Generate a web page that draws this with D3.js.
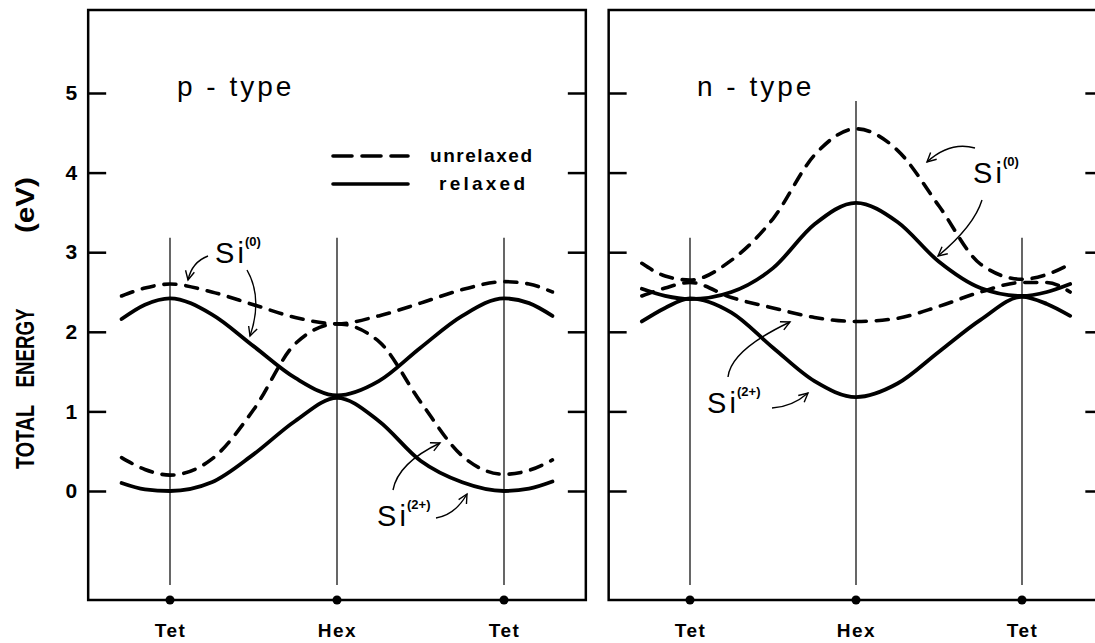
<!DOCTYPE html>
<html>
<head>
<meta charset="utf-8">
<script src="https://cdn.jsdelivr.net/npm/d3@7"></script>
<style>
  body { margin: 0; background: #fff; }
  text { font-family: "Liberation Sans", Arial, sans-serif; fill: #000; }
</style>
</head>
<body>
<svg id="chart" width="1095" height="643"></svg>
<script>
// configuration coordinate: Tet = 0, Hex = 1, Tet = 2
var xs = [-0.29, -0.15, 0, 0.25, 0.5, 0.75, 1, 1.25, 1.5, 1.75, 2, 2.15, 2.29];

// p-type (eV)
var pSi0Unrelaxed  = [2.45, 2.55, 2.60, 2.50, 2.34, 2.18, 2.10, 2.20, 2.36, 2.53, 2.63, 2.60, 2.50];
var pSi0Relaxed    = [2.16, 2.34, 2.42, 2.22, 1.82, 1.42, 1.20, 1.38, 1.80, 2.20, 2.42, 2.36, 2.20];
var pSi2Unrelaxed  = [0.42, 0.27, 0.20, 0.40, 1.02, 1.85, 2.10, 1.88, 1.12, 0.44, 0.21, 0.26, 0.39];
var pSi2Relaxed    = [0.10, 0.02, 0.00, 0.11, 0.46, 0.88, 1.17, 0.88, 0.38, 0.11, 0.00, 0.03, 0.12];

// n-type (eV)
var nSi0Unrelaxed  = [2.86, 2.70, 2.65, 2.90, 3.42, 4.22, 4.55, 4.28, 3.58, 2.85, 2.66, 2.72, 2.85];
var nSi0Relaxed    = [2.54, 2.45, 2.41, 2.50, 2.80, 3.35, 3.62, 3.38, 2.88, 2.55, 2.45, 2.50, 2.60];
var nSi2Unrelaxed  = [2.45, 2.55, 2.62, 2.43, 2.30, 2.18, 2.13, 2.17, 2.32, 2.50, 2.62, 2.62, 2.50];
var nSi2Relaxed    = [2.13, 2.30, 2.42, 2.24, 1.80, 1.38, 1.18, 1.35, 1.75, 2.15, 2.44, 2.35, 2.20];

var yTicks = [0, 1, 2, 3, 4, 5];
var sites = [0, 1, 2];
var siteLabels = ["Tet", "Hex", "Tet"];
var legendLabels = ["unrelaxed", "relaxed"];

var svg = d3.select("#chart");

var y = d3.scaleLinear().domain([0, 5]).range([491, 93]);
var frameTop = 10, frameBottom = 600;

svg.append("defs").append("marker")
	.attr("id", "head")
	.attr("viewBox", "-10 -6 12 12")
	.attr("markerWidth", 12).attr("markerHeight", 12)
	.attr("markerUnits", "userSpaceOnUse")
	.attr("orient", "auto")
	.append("path")
	.attr("d", "M-9,-4.5L0,0L-9,4.5")
	.attr("fill", "none")
	.attr("stroke", "#000")
	.attr("stroke-width", 1.4);

function drawPanel(opt) {
	var x = d3.scaleLinear().domain([0, 2]).range(opt.range);
	var left = x(-0.49), right = x(2.49);
	var g = svg.append("g");

	// frame
	g.append("rect")
		.attr("x", left).attr("y", frameTop)
		.attr("width", right - left).attr("height", frameBottom - frameTop)
		.attr("fill", "none").attr("stroke", "#000").attr("stroke-width", 2.5);

	// inward ticks
	g.append("g")
		.attr("transform", "translate(" + left + ",0)")
		.call(d3.axisLeft(y).tickValues(yTicks).tickSize(-18).tickPadding(11)
			.tickFormat(opt.labels ? d3.format("d") : function(){ return ""; }))
		.call(function(a){ a.select(".domain").remove(); })
		.call(function(a){
			a.selectAll("line").attr("stroke-width", 2.5);
			a.selectAll("text").attr("font-size", 21).attr("font-weight", "bold")
				.style("font-family", "'Liberation Sans', Arial, sans-serif");
		});
	g.append("g")
		.attr("transform", "translate(" + right + ",0)")
		.call(d3.axisRight(y).tickValues(yTicks).tickSize(-18).tickFormat(function(){ return ""; }))
		.call(function(a){ a.select(".domain").remove(); })
		.call(function(a){ a.selectAll("line").attr("stroke-width", 2.5); });

	// bottom site labels
	g.append("g")
		.attr("transform", "translate(0," + frameBottom + ")")
		.call(d3.axisBottom(x).tickValues(sites).tickSize(0).tickPadding(24)
			.tickFormat(function(d, i){ return siteLabels[i]; }))
		.call(function(a){ a.select(".domain").remove(); })
		.call(function(a){
			a.selectAll("text").attr("font-size", 19).attr("font-weight", "bold")
				.attr("letter-spacing", 1.5)
				.style("font-family", "'Liberation Sans', Arial, sans-serif");
		});

	// guide lines
	g.selectAll(".guide").data(sites).enter().append("line")
		.attr("class", "guide")
		.attr("x1", function(d){ return x(d); }).attr("x2", function(d){ return x(d); })
		.attr("y1", function(d, i){ return y(opt.guideTops[i]); })
		.attr("y2", y(-1.18))
		.attr("stroke", "#000").attr("stroke-width", 1.2);

	g.selectAll(".dot").data(sites).enter().append("circle")
		.attr("cx", function(d){ return x(d); })
		.attr("cy", frameBottom)
		.attr("r", 4.5);

	// curves
	var line = d3.line()
		.x(function(d){ return x(d[0]); })
		.y(function(d){ return y(d[1]); })
		.curve(d3.curveMonotoneX);

	opt.curves.forEach(function(c){
		g.append("path")
			.attr("d", line(d3.zip(xs, c.values)))
			.attr("fill", "none")
			.attr("stroke", "#000")
			.attr("stroke-width", c.dashed ? 3.6 : 3.8)
			.attr("stroke-linecap", "round")
			.attr("stroke-dasharray", c.dashed ? "12,10" : null);
	});

	// title
	g.append("text")
		.attr("x", opt.title.x).attr("y", 96)
		.attr("font-size", 28)
		.attr("letter-spacing", 3)
		.text(opt.title.text);

	// Si labels and arrows
	opt.notes.forEach(function(n){
		g.append("text")
			.attr("x", n.x).attr("y", n.y)
			.attr("font-size", 29)
			.attr("textLength", 29)
			.text("Si");
		g.append("text")
			.attr("x", n.x + 30).attr("y", n.y - 17)
			.attr("font-size", 13).attr("font-weight", "bold")
			.text(n.sup);
		n.arrows.forEach(function(a){
			var p = d3.path();
			p.moveTo(a[0], a[1]);
			p.quadraticCurveTo(a[2], a[3], a[4], a[5]);
			g.append("path")
				.attr("d", p.toString())
				.attr("fill", "none")
				.attr("stroke", "#000")
				.attr("stroke-width", 1.4)
				.attr("marker-end", "url(#head)");
		});
	});

	return x;
}

drawPanel({
	range: [170, 504],
	labels: true,
	guideTops: [3.18, 3.18, 3.18],
	title: { text: "p - type", x: 177 },
	curves: [
		{ values: pSi0Unrelaxed, dashed: true },
		{ values: pSi0Relaxed, dashed: false },
		{ values: pSi2Unrelaxed, dashed: true },
		{ values: pSi2Relaxed, dashed: false }
	],
	notes: [
		{ x: 215, y: 263, sup: "(0)", arrows: [[208, 256, 192, 262, 188, 280], [247, 270, 263, 298, 250, 336]] },
		{ x: 377, y: 526, sup: "(2+)", arrows: [[393, 490, 398, 463, 440, 443], [436, 518, 455, 515, 467, 494]] }
	]
});

drawPanel({
	range: [690, 1022],
	labels: false,
	guideTops: [3.18, 4.9, 3.18],
	title: { text: "n - type", x: 697 },
	curves: [
		{ values: nSi0Unrelaxed, dashed: true },
		{ values: nSi0Relaxed, dashed: false },
		{ values: nSi2Unrelaxed, dashed: true },
		{ values: nSi2Relaxed, dashed: false }
	],
	notes: [
		{ x: 973, y: 183, sup: "(0)", arrows: [[975, 148, 950, 141, 927, 162], [982, 200, 974, 226, 938, 256]] },
		{ x: 707, y: 413, sup: "(2+)", arrows: [[728, 377, 731, 350, 790, 322], [772, 408, 792, 407, 808, 393]] }
	]
});

// legend
var legend = svg.append("g");
legend.selectAll("line").data(legendLabels).enter().append("line")
	.attr("x1", 333).attr("x2", 408)
	.attr("y1", function(d, i){ return 156 + i * 28; })
	.attr("y2", function(d, i){ return 156 + i * 28; })
	.attr("stroke", "#000").attr("stroke-width", 3.6)
	.attr("stroke-linecap", "round")
	.attr("stroke-dasharray", function(d, i){ return i === 0 ? "19,10" : null; });
legend.selectAll("text").data(legendLabels).enter().append("text")
	.attr("x", function(d, i){ return i === 0 ? 430 : 439; })
	.attr("y", function(d, i){ return 162 + i * 28; })
	.attr("font-size", 19).attr("font-weight", "bold")
	.attr("textLength", function(d, i){ return i === 0 ? 102 : 86; })
	.text(function(d){ return d; });

// y axis title
var ytitle = [
	{ text: "TOTAL", c: 437, len: 64 },
	{ text: "ENERGY", c: 348, len: 79 },
	{ text: "(eV)", c: 205, len: 56 }
];
svg.selectAll(".ytitle").data(ytitle).enter().append("text")
	.attr("class", "ytitle")
	.attr("transform", function(d){ return "translate(34," + d.c + ") rotate(-90)"; })
	.attr("text-anchor", "middle")
	.attr("font-size", 26).attr("font-weight", "bold")
	.attr("textLength", function(d){ return d.len; })
	.attr("lengthAdjust", "spacingAndGlyphs")
	.text(function(d){ return d.text; });
</script>
</body>
</html>
